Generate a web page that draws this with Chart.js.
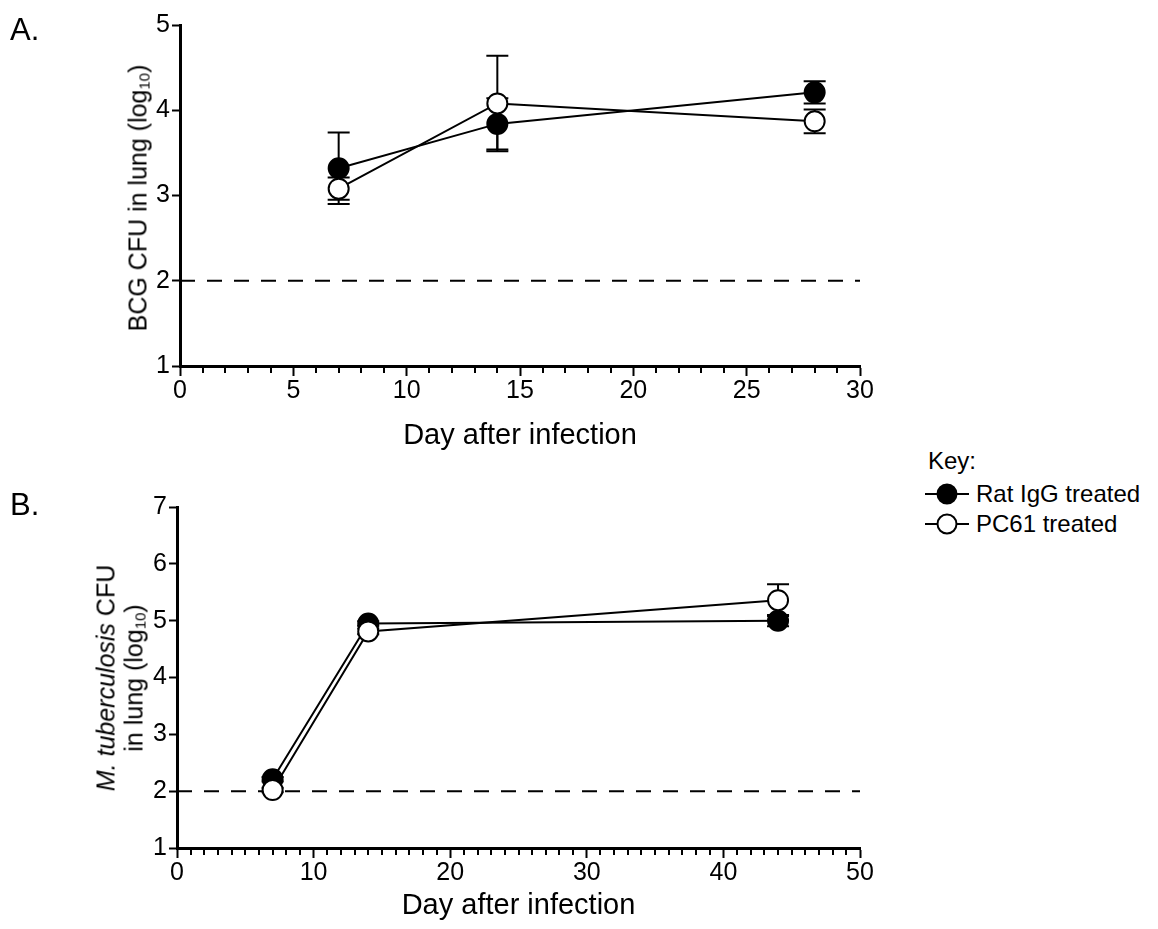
<!DOCTYPE html>
<html>
<head>
<meta charset="utf-8">
<script src="https://cdn.jsdelivr.net/npm/chart.js@4.4.1/dist/chart.umd.min.js"></script>
<style>
  body { margin: 0; background: #fff; font-family: 'Liberation Sans', Arial, sans-serif; color: #000; }
  #wrap { position: relative; width: 1158px; height: 929px; overflow: hidden; }
  canvas { position: absolute; left: 0; }
  .txt { position: absolute; white-space: nowrap; }
  .ytitle { position: absolute; white-space: nowrap; transform: translate(-50%, -50%) rotate(-90deg); font-size: 25px; text-align: center; }
  .ytitle sub { font-size: 15px; vertical-align: -3px; }
  .key { position: absolute; left: 924px; font-size: 24px; }
  .key .row { display: flex; align-items: center; height: 30px; }
  .key svg { margin-right: 6px; }
</style>
</head>
<body>
<div id="wrap">
  <canvas id="chartA" width="900" height="470" style="top:0"></canvas>
  <canvas id="chartB" width="900" height="459" style="top:470px"></canvas>

  <div class="txt" style="left:10px; top:12px; font-size:31px;">A.</div>
  <div class="txt" style="left:10px; top:487px; font-size:31px;">B.</div>

  <div class="ytitle" style="left:138px; top:198px;">BCG CFU in lung (log<sub>10</sub>)</div>
  <div class="ytitle" style="left:123px; top:678px; line-height:28px;"><i>M. tuberculosis</i> CFU<br>in lung (log<sub>10</sub>)</div>

  <div class="key" style="top:447px;">
    <div style="height:32px; padding-left:4px;">Key:</div>
    <div class="row">
      <svg width="46" height="24"><line x1="1" y1="12" x2="45" y2="12" stroke="#000" stroke-width="2"/><circle cx="23" cy="12" r="9.5" fill="#000" stroke="#000" stroke-width="2"/></svg>
      <span>Rat IgG treated</span>
    </div>
    <div class="row">
      <svg width="46" height="24"><line x1="1" y1="12" x2="45" y2="12" stroke="#000" stroke-width="2"/><circle cx="23" cy="12" r="9.5" fill="#fff" stroke="#000" stroke-width="2"/></svg>
      <span>PC61 treated</span>
    </div>
  </div>
</div>

<script>
// Panel A: BCG
const daysA = [7, 14, 28]
const ratIgG_A = [3.32, 3.84, 4.21]
const ratIgG_A_sem = [0.42, 0.30, 0.13]
const pc61_A = [3.08, 4.08, 3.87]
const pc61_A_sem = [0.13, 0.56, 0.14]

// Panel B: M. tuberculosis
const daysB = [7, 14, 44]
const ratIgG_B = [2.21, 4.95, 5.00]
const ratIgG_B_sem = [0.04, 0.04, 0.10]
const pc61_B = [2.02, 4.81, 5.36]
const pc61_B_sem = [0.04, 0.05, 0.28]

// detection limit (dashed line)
const detectionLimit = 2
const limitDaysA = [0, 30]
const limitDaysB = [0, 50]

const tickFont = "'Liberation Sans Narrow', 'Arial Narrow', 'Liberation Sans', sans-serif"
const titleFont = "'Liberation Sans', Arial, sans-serif"

const toPoints = (xs, ys) => xs.map((x, i) => ({ x: x, y: ys[i] }))

// error bars drawn behind the lines and circles
const errorBars = {
  id: 'errorBars',
  beforeDatasetsDraw(chart) {
    const { ctx, scales: { x, y } } = chart
    ctx.save()
    ctx.strokeStyle = '#000'
    ctx.lineWidth = 2
    chart.data.datasets.forEach((ds) => {
      if (!ds.sem) return
      ds.data.forEach((p, i) => {
        const px = x.getPixelForValue(p.x)
        const hi = y.getPixelForValue(p.y + ds.sem[i])
        const lo = y.getPixelForValue(p.y - ds.sem[i])
        ctx.beginPath()
        ctx.moveTo(px, hi); ctx.lineTo(px, lo)
        ctx.moveTo(px - 11, hi); ctx.lineTo(px + 11, hi)
        ctx.moveTo(px - 11, lo); ctx.lineTo(px + 11, lo)
        ctx.stroke()
      })
    })
    ctx.restore()
  },
}

// short minor ticks on the x axis, every day
const minorTicks = {
  id: 'minorTicks',
  afterDraw(chart, args, opts) {
    const { ctx, scales: { x }, chartArea } = chart
    ctx.save()
    ctx.strokeStyle = '#000'
    ctx.lineWidth = 2
    for (let v = x.min; v <= x.max; v++) {
      if (v % opts.major === 0) continue
      const px = Math.round(x.getPixelForValue(v))
      ctx.beginPath()
      ctx.moveTo(px, chartArea.bottom)
      ctx.lineTo(px, chartArea.bottom + 7)
      ctx.stroke()
    }
    ctx.restore()
  },
}

function makeChart(id, cfg) {
  const seriesStyle = {
    borderColor: '#000',
    borderWidth: 2,
    pointRadius: 10,
    pointHoverRadius: 10,
    pointBorderWidth: 2,
    pointBorderColor: '#000',
    showLine: true,
    clip: false,
  }
  return new Chart(document.getElementById(id), {
    type: 'scatter',
    ////////////////////////////////////////////
    data: {
      datasets: [
        {
          ...seriesStyle,
          label: 'PC61 treated',
          data: toPoints(cfg.days, cfg.pc61),
          sem: cfg.pc61Sem,
          backgroundColor: '#fff',
          pointBackgroundColor: '#fff',
          order: 0,
        },
        {
          ...seriesStyle,
          label: 'Rat IgG treated',
          data: toPoints(cfg.days, cfg.rat),
          sem: cfg.ratSem,
          backgroundColor: '#000',
          pointBackgroundColor: '#000',
          order: 1,
        },
        {
          label: 'limit',
          data: cfg.limitDays.map((d) => ({ x: d, y: detectionLimit })),
          showLine: true,
          borderColor: '#000',
          borderWidth: 2,
          borderDash: [15, 12],
          pointRadius: 0,
          order: 2,
        },
      ],
    },
    ////////////////////////////////////////////
    options: {
      responsive: false,
      animation: false,
      events: [],
      layout: { padding: { left: 0, right: 40, top: cfg.top, bottom: 0 } },
      scales: {
        x: {
          type: 'linear',
          min: 0,
          max: cfg.xMax,
          afterFit: (s) => { s.height = cfg.xHeight },
          ticks: {
            stepSize: cfg.major,
            color: '#000',
            padding: 0,
            font: { family: tickFont, size: 25 },
            maxRotation: 0,
          },
          grid: {
            display: true,
            drawOnChartArea: false,
            tickLength: 10,
            tickWidth: 2,
            tickColor: '#000',
          },
          border: { display: true, color: '#000', width: 3 },
          title: {
            display: true,
            text: 'Day after infection',
            color: '#000',
            font: { family: titleFont, size: 29 },
            padding: { top: 0, bottom: cfg.titlePad },
          },
        },
        y: {
          min: 1,
          max: cfg.yMax,
          afterFit: (s) => { s.width = cfg.yWidth },
          ticks: {
            stepSize: 1,
            color: '#000',
            padding: 2,
            font: { family: tickFont, size: 25 },
          },
          grid: {
            display: true,
            drawOnChartArea: false,
            tickLength: 8,
            tickWidth: 2,
            tickColor: '#000',
          },
          border: { display: true, color: '#000', width: 3 },
        },
      },
      plugins: {
        legend: { display: false },
        tooltip: { enabled: false },
        minorTicks: { major: cfg.major },
      },
    },
    plugins: [errorBars, minorTicks],
  })
}

makeChart('chartA', {
  days: daysA, rat: ratIgG_A, ratSem: ratIgG_A_sem, pc61: pc61_A, pc61Sem: pc61_A_sem,
  limitDays: limitDaysA, xMax: 30, yMax: 5, major: 5,
  top: 25, yWidth: 180, xHeight: 104, titlePad: 17,
})

makeChart('chartB', {
  days: daysB, rat: ratIgG_B, ratSem: ratIgG_B_sem, pc61: pc61_B, pc61Sem: pc61_B_sem,
  limitDays: limitDaysB, xMax: 50, yMax: 7, major: 10,
  top: 37, yWidth: 177, xHeight: 81, titlePad: 6,
})
</script>
</body>
</html>
